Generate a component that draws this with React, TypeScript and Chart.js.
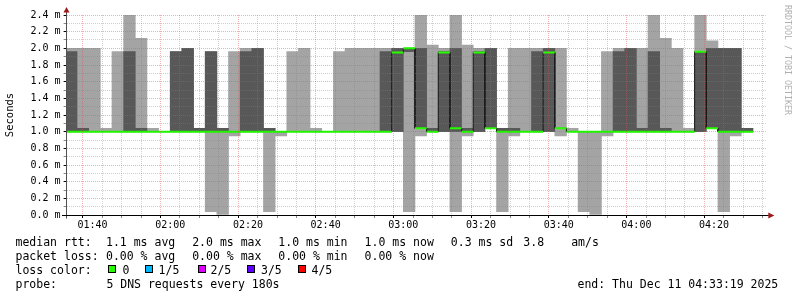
import React, { useEffect, useRef } from 'react';
import { Chart, registerables } from 'chart.js';

Chart.register(...registerables);

// ---------- data (SmokePing: 5 DNS requests every 180 s, values in ms) ----------
const slotStarts = [
  '01:33', '01:36', '01:39', '01:42', '01:45', '01:48', '01:51', '01:54', '01:57',
  '02:00', '02:03', '02:06', '02:09', '02:12', '02:15', '02:18', '02:21', '02:24', '02:27',
  '02:30', '02:33', '02:36', '02:39', '02:42', '02:45', '02:48', '02:51', '02:54', '02:57',
  '03:00', '03:03', '03:06', '03:09', '03:12', '03:15', '03:18', '03:21', '03:24', '03:27',
  '03:30', '03:33', '03:36', '03:39', '03:42', '03:45', '03:48', '03:51', '03:54', '03:57',
  '04:00', '04:03', '04:06', '04:09', '04:12', '04:15', '04:18', '04:21', '04:24', '04:27',
];

// lowest ping of each step
const pingMin = [
  1, 1, 1, 1, 1, 1, 1, 1, 1,
  1, 1, 1, 0.04, 0.0, 0.95, 1, 1, 0.04, 0.95,
  1, 1, 1, 1, 1, 1, 1, 1, 1, 1,
  0.04, 0.95, 1, 1, 0.04, 0.95, 1, 1.04, 0.04, 0.95,
  1, 1, 1, 0.95, 1, 0.04, 0.0, 0.95, 1, 1,
  1, 1, 1, 1, 1, 1, 1.04, 0.04, 0.95, 1,
];
// 2nd ping
const ping2 = [
  1, 1, 1, 1, 1, 1, 1, 1, 1,
  1, 1, 1, 1, 1, 1, 1, 1, 1, 1,
  1, 1, 1, 1, 1, 1, 1, 1, 1, 1,
  1.96, 1.04, 1, 1, 1, 1, 1, 1.04, 1, 1,
  1, 1, 1, 1.04, 1, 1, 1, 1, 1, 1,
  1, 1, 1, 1, 1, 1, 1.04, 1, 1, 1,
];
// median ping
const pingMedian = [
  1, 1, 1, 1, 1, 1, 1, 1, 1,
  1, 1, 1, 1, 1, 1, 1, 1, 1, 1,
  1, 1, 1, 1, 1, 1, 1, 1, 1, 1.95,
  2.0, 1.04, 1, 1.95, 1.04, 1, 1.95, 1.04, 1, 1,
  1, 1, 1.95, 1.04, 1, 1, 1, 1, 1, 1,
  1, 1, 1, 1, 1, 1.96, 1.04, 1, 1, 1,
];
// 4th ping
const ping4 = [
  1.96, 1.04, 1, 1, 1, 1.96, 1.04, 1, 1,
  1.96, 2.0, 1.04, 1.96, 1.04, 1, 1.96, 2.0, 1.04, 1,
  1, 1, 1, 1, 1, 1, 1, 1, 1.96, 2.0,
  2.0, 2.0, 1.04, 1.96, 2.0, 1.04, 1.96, 2.0, 1.04, 1.04,
  1, 1.96, 2.0, 1.04, 1, 1, 1, 1, 1.96, 2.0,
  1.04, 1.96, 1.04, 1, 1, 1.96, 2.0, 2.0, 2.0, 1.04,
];
// highest ping of each step
const pingMax = [
  2.0, 2.0, 2.0, 1.04, 1.96, 2.4, 2.12, 1.04, 1,
  1.96, 2.0, 1.04, 1.96, 1.04, 1.96, 2.0, 2.0, 1.04, 1,
  1.96, 2.0, 1.04, 1, 1.96, 2.0, 2.0, 2.0, 2.0, 2.0,
  2.0, 2.4, 2.04, 2.0, 2.4, 2.04, 2.0, 2.0, 1.04, 2.0,
  2.0, 2.0, 2.0, 2.0, 1.04, 1, 1, 1.96, 2.0, 2.0,
  2.0, 2.4, 2.12, 2.0, 1.04, 2.4, 2.09, 2.0, 2.0, 1.04,
];

const xTickLabels = ['01:40', '02:00', '02:20', '02:40', '03:00', '03:20', '03:40', '04:00', '04:20'];
const yTickLabels = ['0.0 m', '0.2 m', '0.4 m', '0.6 m', '0.8 m', '1.0 m', '1.2 m', '1.4 m', '1.6 m', '1.8 m', '2.0 m', '2.2 m', '2.4 m'];
const rangeStart = '01:33:19';
const rangeEnd = '04:33:19';
const STEP_MIN = 3;
const MINOR_X_MIN = 5;

const rttStats = ['1.1 ms avg', '2.0 ms max', '1.0 ms min', '1.0 ms now', '0.3 ms sd'];
const rttAm = '3.8';
const lossStats = ['0.00 % avg', '0.00 % max', '0.00 % min', '0.00 % now'];
const lossLabels = ['0', '1/5', '2/5', '3/5', '4/5'];
const lossColors = ['#26ff00', '#00b8ff', '#dd00ff', '#5e00ff', '#ff0000'];
const probeText = '5 DNS requests every 180s';
const endText = 'end: Thu Dec 11 04:33:19 2025';

// ---------- helpers ----------
const toMin = (t: string) => {
  const [h, m, s = '0'] = t.split(':');
  return Number(h) * 60 + Number(m) + Number(s) / 60;
};
const xMin = toMin(rangeStart);
const xMax = toMin(rangeEnd);
const starts = slotStarts.map(toMin);
const xMajor = xTickLabels.map(toMin);
const xGrid: number[] = [];
for (let v = Math.ceil(xMin / MINOR_X_MIN) * MINOR_X_MIN; v <= xMax; v += MINOR_X_MIN) xGrid.push(v);
const yMajor = yTickLabels.map((l) => parseFloat(l));
const yGrid: number[] = [];
yMajor.forEach((v, i) => {
  yGrid.push(v);
  if (i < yMajor.length - 1) yGrid.push((v + yMajor[i + 1]) / 2);
});

const GRID = 'rgba(130,130,130,0.38)';
const MGRID = 'rgba(224,80,80,0.45)';
const MONO = '"DejaVu Sans Mono", monospace';

const axisPlugin = {
  id: 'rrdAxes',
  afterDraw(chart: any) {
    const { ctx } = chart;
    const x = chart.scales.x;
    const y = chart.scales.y;
    const y0 = Math.round(y.getPixelForValue(0)) + 0.5;
    const x0 = Math.floor(x.left) + 0.5;
    ctx.save();
    ctx.lineWidth = 1;
    // y axis
    ctx.strokeStyle = '#505050';
    ctx.beginPath();
    ctx.moveTo(x0, y0 + 3);
    ctx.lineTo(x0, y.top - 3);
    ctx.stroke();
    // x axis
    ctx.strokeStyle = '#000';
    ctx.beginPath();
    ctx.moveTo(x.left - 4.6, y0);
    ctx.lineTo(x.right + 3, y0);
    ctx.stroke();
    // arrows
    ctx.fillStyle = '#a01818';
    ctx.beginPath();
    ctx.moveTo(x.right + 2.5, y0 - 3);
    ctx.lineTo(x.right + 8.5, y0);
    ctx.lineTo(x.right + 2.5, y0 + 3);
    ctx.closePath();
    ctx.fill();
    ctx.beginPath();
    ctx.moveTo(x0 - 3, y.top - 2.5);
    ctx.lineTo(x0, y.top - 8);
    ctx.lineTo(x0 + 3, y.top - 2.5);
    ctx.closePath();
    ctx.fill();
    ctx.restore();
  },
};

const isMajorX = (v: number) => xMajor.some((m) => Math.abs(m - v) < 1e-6);
const yMajorIndex = (v: number) => yMajor.findIndex((m) => Math.abs(m - v) < 1e-6);

export default function App() {
  const ref = useRef<HTMLCanvasElement>(null);

  useEffect(() => {
    const canvas = ref.current;
    if (!canvas) return;
    const centers = starts.map((s) => s + STEP_MIN / 2);
    const outerSmoke = centers.map((c, i) => ({ x: c, y: [pingMin[i], pingMax[i]] }));
    const innerSmoke = centers.map((c, i) => ({ x: c, y: [ping2[i], ping4[i]] }));
    const medianStep = starts.flatMap((s, i) => [
      { x: s, y: pingMedian[i] },
      { x: s + STEP_MIN, y: pingMedian[i] },
    ]);
    const medianLoss0 = starts.flatMap((s, i) => [
      { x: s, y: pingMedian[i] },
      { x: s + STEP_MIN, y: pingMedian[i] },
      { x: s + STEP_MIN, y: null },
    ]);

    const chart = new Chart(canvas, {
      type: 'bar',
      data: {
        datasets: [
          {
            type: 'line',
            label: 'median (loss 0)',
            data: medianLoss0 as any,
            borderColor: lossColors[0],
            borderWidth: 2,
            pointRadius: 0,
            spanGaps: false,
            tension: 0,
            order: 0,
          },
          {
            type: 'line',
            label: 'median',
            data: medianStep as any,
            borderColor: '#1a1a1a',
            borderWidth: 1,
            pointRadius: 0,
            tension: 0,
            order: 1,
          },
          {
            type: 'bar',
            label: 'smoke inner',
            data: innerSmoke as any,
            backgroundColor: '#585858',
            borderWidth: 0,
            grouped: false,
            barPercentage: 1,
            categoryPercentage: 1,
            order: 2,
          },
          {
            type: 'bar',
            label: 'smoke outer',
            data: outerSmoke as any,
            backgroundColor: '#a4a4a4',
            borderWidth: 0,
            grouped: false,
            barPercentage: 1,
            categoryPercentage: 1,
            order: 3,
          },
        ] as any,
      },
      options: {
        responsive: false,
        animation: false,
        devicePixelRatio: 1,
        events: [],
        layout: { padding: { left: 0, top: 15, right: 31.2, bottom: 0 } },
        plugins: { legend: { display: false }, tooltip: { enabled: false } },
        scales: {
          x: {
            type: 'linear',
            min: xMin,
            max: xMax,
            offset: false,
            afterBuildTicks: (s: any) => {
              s.ticks = xGrid.map((v) => ({ value: v }));
            },
            afterFit: (s: any) => {
              s.height = 82;
            },
            grid: {
              z: 1,
              lineWidth: 1,
              tickLength: 3,
              color: (c: any) => (isMajorX(c.tick?.value) ? MGRID : GRID),
              tickColor: (c: any) => (isMajorX(c.tick?.value) ? '#000' : '#888'),
            },
            border: { display: false, dash: [1, 1] },
            ticks: {
              autoSkip: false,
              maxRotation: 0,
              minRotation: 0,
              padding: 1,
              color: '#000',
              font: { family: MONO, size: 10 },
              callback: (v: any) => {
                const i = xMajor.findIndex((m) => Math.abs(m - Number(v)) < 1e-6);
                return i >= 0 ? xTickLabels[i] : '';
              },
            },
          },
          y: {
            type: 'linear',
            min: yMajor[0],
            max: yMajor[yMajor.length - 1],
            afterBuildTicks: (s: any) => {
              s.ticks = yGrid.map((v) => ({ value: v }));
            },
            afterFit: (s: any) => {
              s.width = 66.6;
            },
            grid: {
              z: 1,
              lineWidth: 1,
              tickLength: 3,
              color: (c: any) => (yMajorIndex(c.tick?.value) >= 0 ? MGRID : GRID),
              tickColor: (c: any) => (yMajorIndex(c.tick?.value) >= 0 ? '#000' : '#888'),
            },
            border: { display: false, dash: [1, 1] },
            title: {
              display: true,
              text: 'Seconds',
              color: '#000',
              font: { family: MONO, size: 10.5 },
              padding: { top: 4, bottom: 0 },
            },
            ticks: {
              autoSkip: false,
              padding: 3,
              color: '#000',
              font: { family: MONO, size: 10 },
              callback: (v: any) => {
                const i = yMajorIndex(Number(v));
                return i >= 0 ? yTickLabels[i] : '';
              },
            },
          },
        },
      } as any,
      plugins: [axisPlugin],
    });
    return () => chart.destroy();
  }, []);

  const text = (x: number, y: number, s: string, key?: string) => (
    <div
      key={key}
      style={{
        position: 'absolute',
        left: x,
        top: y,
        font: `11.5px ${MONO}`,
        lineHeight: '14px',
        whiteSpace: 'pre',
        color: '#000',
      }}
    >
      {s}
    </div>
  );
  const statX = [106, 192.2, 278.3, 364.6, 450.8];
  const lossSquareX = [108, 145, 197.5, 246.8, 297.8];
  const lossTextX = [122.4, 158.6, 210.5, 261, 311.5];
  const rowTop = [234.6, 248.8, 263, 277.2];

  return (
    <div style={{ position: 'absolute', left: 0, top: 0, width: 797, height: 297, background: '#fff', overflow: 'hidden' }}>
      <canvas ref={ref} width={797} height={297} style={{ position: 'absolute', left: 0, top: 0, width: 797, height: 297 }} />
      {text(15.5, rowTop[0], 'median rtt:')}
      {rttStats.map((s, i) => text(statX[i], rowTop[0], s, 'r' + i))}
      {text(523.3, rowTop[0], rttAm)}
      {text(571.2, rowTop[0], 'am/s')}
      {text(15.5, rowTop[1], 'packet loss:')}
      {lossStats.map((s, i) => text(statX[i], rowTop[1], s, 'l' + i))}
      {text(15.5, rowTop[2], 'loss color:')}
      {lossLabels.map((l, i) => (
        <React.Fragment key={'c' + i}>
          <div
            style={{
              position: 'absolute',
              left: lossSquareX[i],
              top: 264.6,
              width: 6,
              height: 6,
              border: '1px solid #000',
              background: lossColors[i],
            }}
          />
          {text(lossTextX[i], rowTop[2], l)}
        </React.Fragment>
      ))}
      {text(15.5, rowTop[3], 'probe:')}
      {text(106.4, rowTop[3], probeText)}
      {text(577.5, rowTop[3], endText)}
      <div
        style={{
          position: 'absolute',
          left: 784.3,
          top: 5,
          writingMode: 'vertical-rl',
          font: `8.3px ${MONO}`,
          lineHeight: '8px',
          color: '#b0b0b0',
          whiteSpace: 'pre',
        }}
      >
        RRDTOOL / TOBI OETIKER
      </div>
    </div>
  );
}
